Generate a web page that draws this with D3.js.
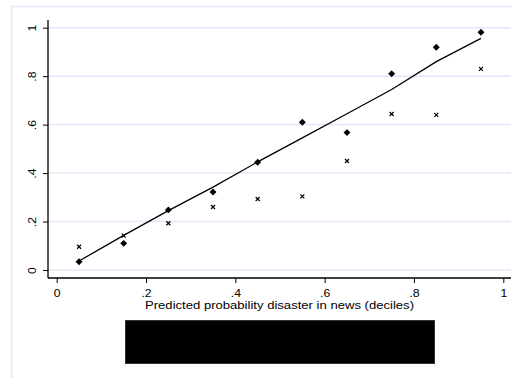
<!DOCTYPE html>
<html><head><meta charset="utf-8">
<script src="https://cdn.jsdelivr.net/npm/d3@7"></script>
<style>body{margin:0;background:#fff}svg{display:block}</style>
</head><body>
<script>
const deciles = [0.05,0.15,0.25,0.35,0.45,0.55,0.65,0.75,0.85,0.95];
const observed = [0.034,0.11,0.248,0.322,0.445,0.61,0.567,0.81,0.919,0.981];
const crosses = [0.096,0.142,0.193,0.26,0.293,0.304,0.45,0.644,0.64,0.83];
const fitted = [0.037,0.143,0.245,0.342,0.446,0.545,0.645,0.745,0.86,0.956];
const xTicks = [0,0.2,0.4,0.6,0.8,1];
const xTickLabels = ["0",".2",".4",".6",".8","1"];
const yTicks = [0,0.2,0.4,0.6,0.8,1];
const yTickLabels = ["0",".2",".4",".6",".8","1"];
const xTitle = "Predicted probability disaster in news (deciles)";

const W=514,H=378;
const svg=d3.select("body").append("svg").attr("width",W).attr("height",H);
const font="Liberation Sans, Arial, sans-serif";
const grid="#e4e7f5";

// outer frame
svg.append("line").attr("x1",11.5).attr("x2",512).attr("y1",6.5).attr("y2",6.5).attr("stroke",grid).attr("stroke-width",1.5);
svg.append("line").attr("x1",11.5).attr("x2",11.5).attr("y1",6.5).attr("y2",H).attr("stroke",grid).attr("stroke-width",1.5);

const x=d3.scaleLinear().domain([0,1]).range([56.7,503.3]);
const y=d3.scaleLinear().domain([0,1]).range([270,27.7]);
const pLeft=48, pRight=511, pTop=20, pBottom=278;

// gridlines
svg.append("g").selectAll("line").data(yTicks).join("line")
  .attr("x1",pLeft).attr("x2",pRight).attr("y1",d=>y(d)).attr("y2",d=>y(d))
  .attr("stroke",grid).attr("stroke-width",1.5);

// axes
const xAxis=d3.axisBottom(x).tickValues(xTicks).tickFormat((d,i)=>xTickLabels[i]).tickSize(5).tickSizeOuter(0);
const gx=svg.append("g").attr("transform",`translate(0,${pBottom})`).call(xAxis);
gx.select(".domain").remove();
gx.append("line").attr("x1",pLeft).attr("x2",pRight).attr("stroke","#000").attr("stroke-width",1.3);
gx.selectAll(".tick line").attr("stroke","#000");
gx.selectAll(".tick text").attr("font-family",font).attr("font-size",10).attr("fill","#000")
  .attr("dy",null).attr("y",null).attr("transform","translate(0,19.4) scale(1.22,1)");

const yAxis=d3.axisLeft(y).tickValues(yTicks).tickFormat((d,i)=>yTickLabels[i]).tickSize(5).tickSizeOuter(0);
const gy=svg.append("g").attr("transform",`translate(${pLeft},0)`).call(yAxis);
gy.select(".domain").remove();
gy.append("line").attr("y1",pTop).attr("y2",pBottom).attr("stroke","#000").attr("stroke-width",1.3);
gy.selectAll(".tick line").attr("stroke","#000");
gy.selectAll(".tick text").attr("font-family",font).attr("font-size",10.5).attr("fill","#000")
  .attr("x",null).attr("dy",null).attr("text-anchor","middle")
  .attr("transform","translate(-12.3,0) rotate(-90) scale(1.17,1)");

// fitted line
svg.append("path").datum(deciles.map((d,i)=>[d,fitted[i]]))
  .attr("d",d3.line().x(d=>x(d[0])).y(d=>y(d[1])))
  .attr("fill","none").attr("stroke","#000").attr("stroke-width",1.3);

// diamonds
svg.append("g").selectAll("path").data(deciles.map((d,i)=>[d,observed[i]])).join("path")
  .attr("d",d3.symbol(d3.symbolSquare,24)())
  .attr("transform",d=>`translate(${x(d[0])},${y(d[1])}) rotate(45)`).attr("fill","#000");

// crosses
svg.append("g").selectAll("path").data(deciles.map((d,i)=>[d,crosses[i]])).join("path")
  .attr("d","M-2,-2L2,2M-2,2L2,-2")
  .attr("transform",d=>`translate(${x(d[0])},${y(d[1])})`).attr("stroke","#000").attr("stroke-width",1.2).attr("fill","none");

// x title
svg.append("text").attr("x",145).attr("y",309.3)
  .attr("text-anchor","start").attr("font-family",font).attr("font-size",10.6)
  .attr("textLength",269).attr("lengthAdjust","spacingAndGlyphs").text(xTitle);

// black box (redaction)
svg.append("rect").attr("x",125.5).attr("y",320.5).attr("width",309).attr("height",43).attr("fill","#000").attr("stroke","#333");
</script>
</body></html>
